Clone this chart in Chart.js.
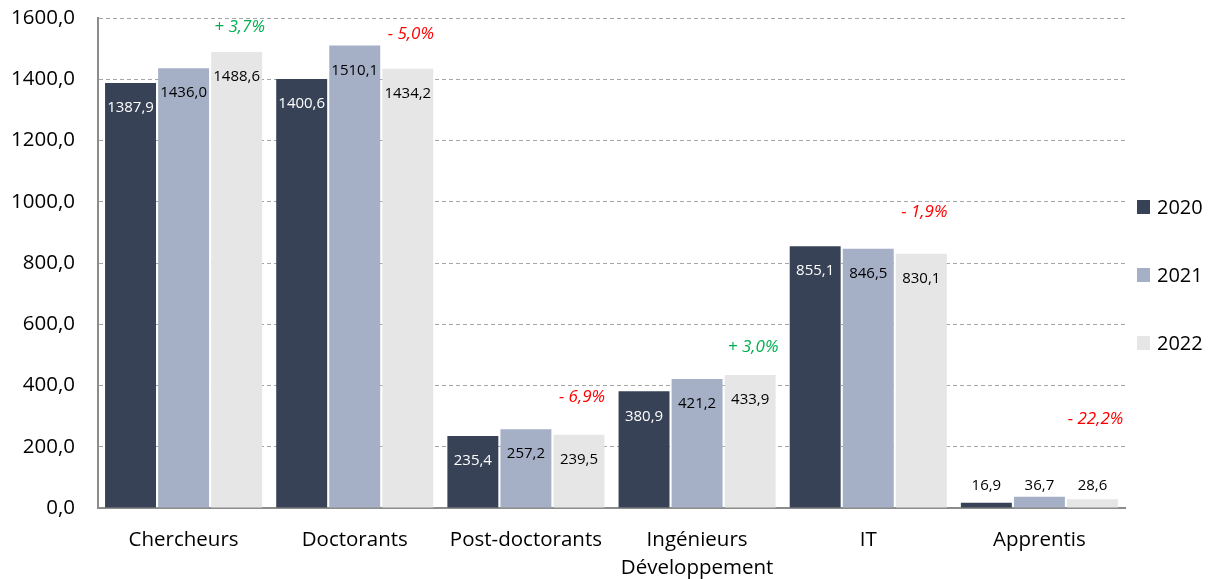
<!DOCTYPE html>
<html>
<head>
<meta charset="utf-8">
<script src="https://cdn.jsdelivr.net/npm/chart.js@4"></script>
<style>
    html, body { margin: 0; padding: 0; background: #ffffff; }
    #wrap { width: 1215px; height: 579px; position: relative; }
</style>
</head>
<body>
<div id="wrap"><canvas id="chart"></canvas></div>
<script>
const categories = ['Chercheurs', 'Doctorants', 'Post-doctorants', ['Ingénieurs', 'Développement'], 'IT', 'Apprentis'];
const years = ['2020', '2021', '2022'];
const values2020 = [1387.9, 1400.6, 235.4, 380.9, 855.1, 16.9];
const values2021 = [1436.0, 1510.1, 257.2, 421.2, 846.5, 36.7];
const values2022 = [1488.6, 1434.2, 239.5, 433.9, 830.1, 28.6];
const changeLabels = ['+ 3,7%', '- 5,0%', '- 6,9%', '+ 3,0%', '- 1,9%', '- 22,2%'];
// height (in axis units) where each change label sits
const changeAnchors = [1570, 1548, 362, 526, 967, 291];
const yTicks = [0, 200, 400, 600, 800, 1000, 1200, 1400, 1600];

const colors = ['#384256', '#a5b0c6', '#e6e6e6'];
const labelColors = ['#ffffff', '#000000', '#000000'];
const FONT = '"Open Sans", sans-serif';

Chart.defaults.font.family = FONT;
Chart.defaults.color = '#000000';

function fmt(v) {
    return v.toFixed(1).replace('.', ',');
}

const barLabels = {
    id: 'barLabels',
    afterDatasetsDraw(chart) {
        const ctx = chart.ctx;
        const yScale = chart.scales.y;
        const zeroY = yScale.getPixelForValue(0);
        ctx.save();
        ctx.font = '15px ' + FONT;
        ctx.textAlign = 'center';
        ctx.textBaseline = 'middle';
        chart.data.datasets.forEach((ds, d) => {
            chart.getDatasetMeta(d).data.forEach((bar, i) => {
                const tall = zeroY - bar.y > 45;
                ctx.fillStyle = tall ? labelColors[d] : '#000000';
                const y = tall ? bar.y + 25 : zeroY - 22;
                ctx.fillText(fmt(ds.data[i]), bar.x, y);
            });
        });

        // change 2021 -> 2022
        ctx.font = 'italic 17px ' + FONT;
        const meta = chart.getDatasetMeta(2);
        changeLabels.forEach((txt, i) => {
            ctx.fillStyle = txt.startsWith('+') ? '#00b050' : '#ff0000';
            ctx.fillText(txt, meta.data[i].x + 3, yScale.getPixelForValue(changeAnchors[i]));
        });
        ctx.restore();
    }
};

const sideLegend = {
    id: 'sideLegend',
    afterDraw(chart) {
        const ctx = chart.ctx;
        const area = chart.chartArea;
        const mid = (area.top + area.bottom) / 2 + 12;
        ctx.save();
        ctx.font = '20px ' + FONT;
        ctx.textBaseline = 'middle';
        ctx.textAlign = 'left';
        years.forEach((year, i) => {
            const y = mid + (i - 1) * 68;
            ctx.fillStyle = colors[i];
            ctx.fillRect(area.right + 12, y - 7, 13, 14);
            ctx.fillStyle = '#000000';
            ctx.fillText(year, area.right + 32, y + 1);
        });
        ctx.restore();
    }
};

new Chart(document.getElementById('chart'), {
    type: 'bar',
    data: {
        labels: categories,
        datasets: years.map((year, i) => ({
            label: year,
            data: [values2020, values2021, values2022][i],
            backgroundColor: colors[i],
            barPercentage: 0.96,
            categoryPercentage: 0.93
        }))
    },
    options: {
        responsive: true,
        maintainAspectRatio: false,
        animation: false,
        layout: {
            padding: { top: 18, right: 90, left: 0, bottom: 0 }
        },
        plugins: {
            legend: { display: false },
            tooltip: { enabled: false }
        },
        scales: {
            x: {
                grid: { display: false },
                border: { display: true, color: '#8c8c8c', width: 2 },
                ticks: {
                    font: { size: 20.5, lineHeight: 1.37 },
                    padding: 10,
                    maxRotation: 0,
                    autoSkip: false
                },
                afterFit(scale) { scale.height = 71; }
            },
            y: {
                min: 0,
                max: 1600,
                afterBuildTicks(scale) {
                    scale.ticks = yTicks.map(v => ({ value: v }));
                },
                grid: {
                    color: ctx => ctx.tick && ctx.tick.value === 0 ? 'rgba(0,0,0,0)' : '#a6a6a6',
                    lineWidth: 1,
                    drawTicks: false
                },
                border: { display: true, color: '#8c8c8c', width: 2, dash: [4, 3] },
                ticks: {
                    font: { size: 20.5 },
                    padding: 23,
                    callback: value => fmt(value)
                },
                afterFit(scale) {
                    scale.width = 98;
                    // tick padding should not push the plot down
                    scale.paddingTop = 12;
                    scale.paddingBottom = 12;
                }
            }
        }
    },
    plugins: [barLabels, sideLegend]
});
</script>
</body>
</html>
